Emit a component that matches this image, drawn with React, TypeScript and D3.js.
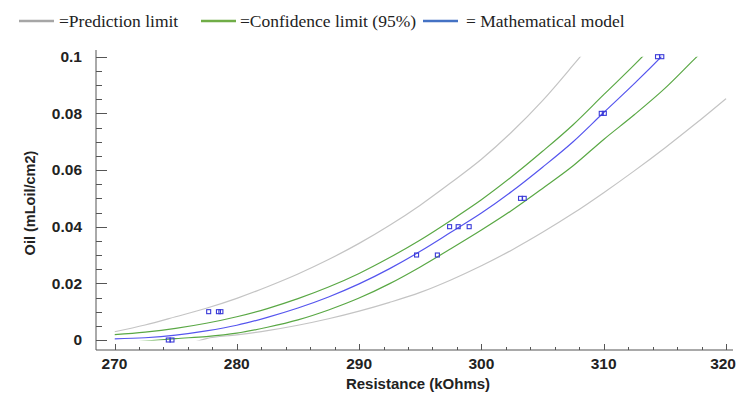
import * as d3 from "d3";
import { useEffect, useRef } from "react";

const resistance = [
  270, 272.5, 275, 277.5, 280, 282.5, 285, 287.5, 290, 292.5, 295, 297.5, 300,
  302.5, 305, 307.5, 310, 312.5, 315, 317.5, 320,
];
const model = [
  0.0004, 0.0008, 0.0017, 0.0032, 0.0052, 0.008, 0.0113, 0.0152, 0.0198,
  0.0252, 0.0313, 0.038, 0.0448, 0.0525, 0.061, 0.07, 0.0803, 0.0905, 0.1013,
  0.1135, 0.126,
];
const confUpper = [
  0.0019, 0.0028, 0.0041, 0.0059, 0.0082, 0.0111, 0.0146, 0.0187, 0.0235,
  0.0291, 0.0353, 0.0422, 0.0495, 0.0577, 0.0666, 0.076, 0.0866, 0.0971,
  0.1083, 0.12, 0.133,
];
const confLower = [
  -0.0012, -0.0004, 0.0005, 0.0012, 0.0024, 0.0045, 0.0071, 0.0106, 0.0148,
  0.0199, 0.0258, 0.0322, 0.0388, 0.0458, 0.0535, 0.0615, 0.0708, 0.0795,
  0.0888, 0.0995, 0.11,
];
const predUpper = [
  0.0029, 0.0053, 0.0082, 0.0112, 0.0147, 0.0188, 0.0233, 0.0284, 0.0341,
  0.0405, 0.0476, 0.0555, 0.0638, 0.0735, 0.0845, 0.097, 0.11, 0.123, 0.137,
  0.151, 0.166,
];
const predLower = [
  -0.008, -0.005, -0.003, 0.0005, 0.0018, 0.0033, 0.0052, 0.0075, 0.0102,
  0.0133, 0.0168, 0.0212, 0.0262, 0.0318, 0.038, 0.0447, 0.052, 0.0597,
  0.0678, 0.0763, 0.0852,
];

// measured samples
const sampleR = [
  274.4, 274.7, 277.7, 278.5, 278.7, 294.7, 296.4, 297.4, 298.1, 299.0, 303.2,
  303.5, 309.8, 310.05, 314.4, 314.75,
];
const sampleOil = [
  0, 0, 0.01, 0.01, 0.01, 0.03, 0.03, 0.04, 0.04, 0.04, 0.05, 0.05, 0.08, 0.08,
  0.1, 0.1,
];

const xTicks = [270, 280, 290, 300, 310, 320];
const yTicks = [0, 0.02, 0.04, 0.06, 0.08, 0.1];
const yTickLabels = ["0", "0.02", "0.04", "0.06", "0.08", "0.1"];

const legendItems = [
  { label: "=Prediction limit", color: "#a6a6a6" },
  { label: "=Confidence limit (95%)", color: "#70ad47" },
  { label: "= Mathematical model", color: "#4472c4" },
];

const App = () => {
  const ref = useRef<SVGSVGElement | null>(null);

  useEffect(() => {
    if (!ref.current) return;
    const svg = d3.select(ref.current);
    svg.selectAll("*").remove();

    const left = 96;
    const right = 733;
    const top = 50;
    const bottom = 350;

    const x = d3.scaleLinear().domain([270, 320]).range([114.5, 726]);
    const y = d3.scaleLinear().domain([0, 0.1]).range([340, 56.7]);

    svg
      .append("rect")
      .attr("width", 737)
      .attr("height", 394)
      .attr("fill", "#fff");

    // legend
    const legendX = [19, 201, 423];
    const legendTextX = [59, 240, 466];
    legendItems.forEach((d, i) => {
      svg
        .append("line")
        .attr("x1", legendX[i])
        .attr("x2", legendX[i] + 35)
        .attr("y1", 21)
        .attr("y2", 21)
        .attr("stroke", d.color)
        .attr("stroke-width", 2.5);
      svg
        .append("text")
        .attr("x", legendTextX[i])
        .attr("y", 27)
        .attr("font-family", "Liberation Serif, serif")
        .attr("font-size", 17.5)
        .attr("fill", "#222")
        .text(d.label);
    });

    const axisColor = "#555";
    const tickFont = "Liberation Sans, Arial, sans-serif";

    // y axis
    svg
      .append("line")
      .attr("x1", left)
      .attr("x2", left)
      .attr("y1", top)
      .attr("y2", bottom)
      .attr("stroke", axisColor);
    const yMinor = d3.range(0, 0.1001, 0.005);
    svg
      .append("g")
      .selectAll("line")
      .data(yMinor)
      .enter()
      .append("line")
      .attr("x1", left)
      .attr("x2", (d) => (Math.abs(Math.round(d / 0.02) * 0.02 - d) < 1e-6 ? left + 11 : left + 6))
      .attr("y1", (d) => Math.round(y(d)) + 0.5)
      .attr("y2", (d) => Math.round(y(d)) + 0.5)
      .attr("stroke", axisColor);
    svg
      .append("g")
      .selectAll("text")
      .data(yTicks)
      .enter()
      .append("text")
      .attr("x", 82)
      .attr("y", (d) => y(d))
      .attr("dy", "0.35em")
      .attr("text-anchor", "end")
      .attr("font-family", tickFont)
      .attr("font-weight", "bold")
      .attr("font-size", 15.5)
      .attr("fill", "#222")
      .text((d, i) => yTickLabels[i]);

    // x axis
    svg
      .append("line")
      .attr("x1", left)
      .attr("x2", right)
      .attr("y1", bottom)
      .attr("y2", bottom)
      .attr("stroke", axisColor);
    const xMinor = d3.range(270, 320.01, 2);
    svg
      .append("g")
      .selectAll("line")
      .data(xMinor)
      .enter()
      .append("line")
      .attr("x1", (d) => Math.round(x(d)) + 0.5)
      .attr("x2", (d) => Math.round(x(d)) + 0.5)
      .attr("y1", bottom)
      .attr("y2", (d) => (d % 10 === 0 ? bottom - 6 : bottom - 3))
      .attr("stroke", axisColor);
    svg
      .append("g")
      .selectAll("text")
      .data(xTicks)
      .enter()
      .append("text")
      .attr("x", (d, i) => (i === xTicks.length - 1 ? 736 : x(d)))
      .attr("y", 369)
      .attr("text-anchor", (d, i) => (i === xTicks.length - 1 ? "end" : "middle"))
      .attr("font-family", tickFont)
      .attr("font-weight", "bold")
      .attr("font-size", 15.5)
      .attr("fill", "#222")
      .text((d) => d);

    // axis titles
    svg
      .append("text")
      .attr("x", 418)
      .attr("y", 389)
      .attr("text-anchor", "middle")
      .attr("font-family", tickFont)
      .attr("font-weight", "bold")
      .attr("font-size", 15)
      .attr("fill", "#222")
      .text("Resistance (kOhms)");
    svg
      .append("text")
      .attr("transform", "translate(35,203) rotate(-90)")
      .attr("text-anchor", "middle")
      .attr("font-family", tickFont)
      .attr("font-weight", "bold")
      .attr("font-size", 14.5)
      .attr("fill", "#222")
      .text("Oil (mLoil/cm2)");

    // curves, clipped to 0..0.1
    svg
      .append("clipPath")
      .attr("id", "plot-clip")
      .append("rect")
      .attr("x", x(270))
      .attr("y", y(0.1))
      .attr("width", right - x(270))
      .attr("height", y(0) - y(0.1) + 0.6);

    const curves = [
      { values: predUpper, color: "#c4c4c4" },
      { values: predLower, color: "#c4c4c4" },
      { values: confUpper, color: "#5aa845" },
      { values: confLower, color: "#5aa845" },
      { values: model, color: "#5555ee" },
    ];
    const line = d3
      .line<number>()
      .x((d, i) => x(resistance[i]))
      .y((d) => y(d))
      .curve(d3.curveMonotoneX);
    const plot = svg.append("g").attr("clip-path", "url(#plot-clip)");
    curves.forEach((c) => {
      plot
        .append("path")
        .attr("d", line(c.values))
        .attr("fill", "none")
        .attr("stroke", c.color)
        .attr("stroke-width", 1.2);
    });

    // samples
    svg
      .append("g")
      .selectAll("rect")
      .data(sampleR)
      .enter()
      .append("rect")
      .attr("x", (d) => x(d) - 2)
      .attr("y", (d, i) => y(sampleOil[i]) - 2)
      .attr("width", 4)
      .attr("height", 4)
      .attr("fill", "none")
      .attr("stroke", "#3a3ad8")
      .attr("stroke-width", 1.1);
  }, []);

  return (
    <svg
      ref={ref}
      width={737}
      height={394}
      style={{ position: "absolute", left: 0, top: 0, display: "block" }}
    ></svg>
  );
};

export default App;
